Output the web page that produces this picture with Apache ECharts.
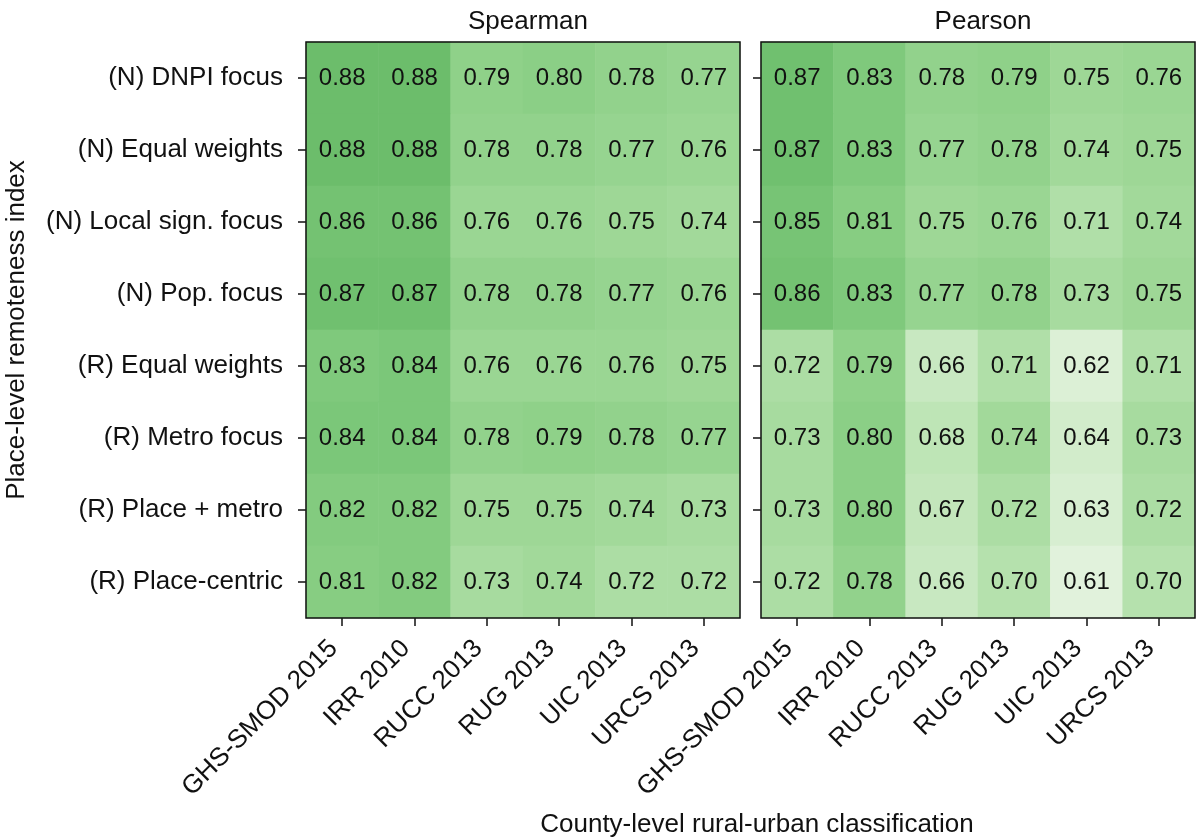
<!DOCTYPE html>
<html>
<head>
<meta charset="utf-8">
<script src="https://cdn.jsdelivr.net/npm/echarts@6/dist/echarts.min.js"></script>
<style>html,body{margin:0;padding:0;background:#fff}#c{width:1200px;height:840px}</style>
</head>
<body>
<div id="c"></div>
<script>
const rowLabels = ['(N) DNPI focus','(N) Equal weights','(N) Local sign. focus','(N) Pop. focus','(R) Equal weights','(R) Metro focus','(R) Place + metro','(R) Place-centric'];
const colLabels = ['GHS-SMOD 2015','IRR 2010','RUCC 2013','RUG 2013','UIC 2013','URCS 2013'];
const panelTitles = ['Spearman','Pearson'];
const spearman = [
  [0.88,0.88,0.79,0.80,0.78,0.77],
  [0.88,0.88,0.78,0.78,0.77,0.76],
  [0.86,0.86,0.76,0.76,0.75,0.74],
  [0.87,0.87,0.78,0.78,0.77,0.76],
  [0.83,0.84,0.76,0.76,0.76,0.75],
  [0.84,0.84,0.78,0.79,0.78,0.77],
  [0.82,0.82,0.75,0.75,0.74,0.73],
  [0.81,0.82,0.73,0.74,0.72,0.72]
];
const pearson = [
  [0.87,0.83,0.78,0.79,0.75,0.76],
  [0.87,0.83,0.77,0.78,0.74,0.75],
  [0.85,0.81,0.75,0.76,0.71,0.74],
  [0.86,0.83,0.77,0.78,0.73,0.75],
  [0.72,0.79,0.66,0.71,0.62,0.71],
  [0.73,0.80,0.68,0.74,0.64,0.73],
  [0.73,0.80,0.67,0.72,0.63,0.72],
  [0.72,0.78,0.66,0.70,0.61,0.70]
];
const xTitle = 'County-level rural-urban classification';
const yTitle = 'Place-level remoteness index';

function toData(m){const d=[];m.forEach((r,i)=>r.forEach((v,j)=>d.push([j,i,v])));return d;}
const font = 'Liberation Sans, Arial, sans-serif';
const FS = 24;
const AFS = 26;
const grids = [
  {left:306, top:42, width:434, height:576, show:true, z:10, borderColor:'#111', borderWidth:1.5, backgroundColor:'transparent'},
  {left:761, top:42, width:434, height:576, show:true, z:10, borderColor:'#111', borderWidth:1.5, backgroundColor:'transparent'}
];
const xAxes = grids.map((g,i)=>({
  type:'category', gridIndex:i, data:colLabels,
  axisLine:{show:false}, splitLine:{show:false},
  axisTick:{show:true, alignWithLabel:true, length:8, lineStyle:{color:'#111', width:1.5}},
  axisLabel:{rotate:45, interval:0, fontSize:AFS, color:'#111', fontFamily:font, margin:18, padding:[0,12,0,0]}
}));
const yAxes = grids.map((g,i)=>({
  type:'category', gridIndex:i, data:rowLabels, inverse:true,
  axisLine:{show:false}, splitLine:{show:false},
  axisTick:{show:true, alignWithLabel:true, length:8, lineStyle:{color:'#111', width:1.5}},
  axisLabel:{show:i===0, fontSize:AFS, color:'#111', fontFamily:font, margin:23},
  name: i===0 ? yTitle : '', nameLocation:'middle', nameGap:276, nameRotate:90,
  nameTextStyle:{fontSize:AFS, color:'#111', fontFamily:font}
}));
const option = {
  animation:false,
  backgroundColor:'#fff',
  title:[
    {text:panelTitles[0], left:523, top:4, textAlign:'center', textStyle:{fontSize:AFS, fontWeight:'normal', color:'#111', fontFamily:font}},
    {text:panelTitles[1], left:978, top:4, textAlign:'center', textStyle:{fontSize:AFS, fontWeight:'normal', color:'#111', fontFamily:font}},
    {text:xTitle, left:752, top:807, textAlign:'center', textStyle:{fontSize:AFS, fontWeight:'normal', color:'#111', fontFamily:font}}
  ],
  grid:grids, xAxis:xAxes, yAxis:yAxes,
  visualMap:[{
    type:'continuous', show:false, seriesIndex:[0,1], min:0.60, max:0.89,
    inRange:{color:['#e6f4e1','#c2e6ba','#a0d898','#84cc80','#68bb68']}
  }],
  series:[spearman,pearson].map((m,i)=>({
    type:'heatmap', xAxisIndex:i, yAxisIndex:i, data:toData(m),
    label:{show:true, formatter:p=>p.value[2].toFixed(2), fontSize:FS, color:'#111', fontFamily:font},
    itemStyle:{borderWidth:0}
  }))
};
const chart = echarts.init(document.getElementById('c'), null, {renderer:'canvas'});
chart.setOption(option);
</script>
</body>
</html>
